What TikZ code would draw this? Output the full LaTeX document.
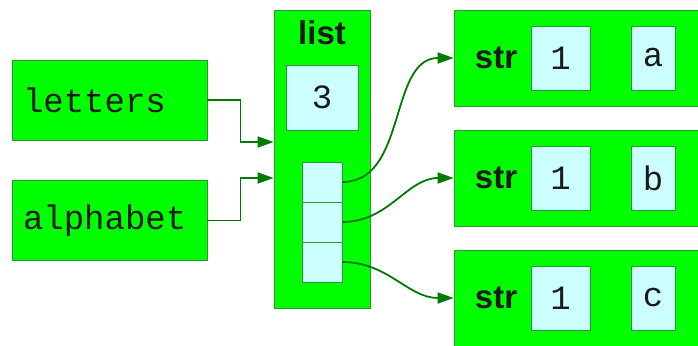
\documentclass[tikz,border=0pt]{standalone}
\usepackage{fontspec}
\setmainfont{Liberation Sans}
\setmonofont{Liberation Mono}
\usetikzlibrary{arrows.meta}
\definecolor{boxgreen}{HTML}{00FF00}
\definecolor{edgegreen}{HTML}{2A9A2A}
\definecolor{arrowgreen}{HTML}{007A00}
\definecolor{cellcyan}{HTML}{CCFFFF}
\definecolor{inkgray}{HTML}{1A1A1A}
\begin{document}
\begin{tikzpicture}[
            x=1pt, y=-1pt,
            objbox/.style={draw=edgegreen, fill=boxgreen, line width=0.8pt, inner sep=0pt},
            valbox/.style={draw=edgegreen, fill=cellcyan, line width=0.8pt, inner sep=0pt,
                           text=inkgray, font=\ttfamily\fontsize{34}{40}\selectfont},
            typename/.style={text=inkgray, font=\bfseries\fontsize{33}{40}\selectfont, inner sep=0pt},
            ref/.style={arrowgreen, line width=1.8pt, -{Triangle[length=16pt,width=11pt]}}
                           ]
            \useasboundingbox (0,0) rectangle (698,345);

            % 1. Draw the two variable names
            \node[objbox, minimum width=195pt, minimum height=80pt, text width=173pt,
                  inner xsep=11pt, align=left, text=inkgray,
                  font=\ttfamily\fontsize{34}{40}\selectfont] (letters_box) at (109.5,100) {letters};
            \node[objbox, minimum width=195pt, minimum height=80pt, text width=173pt,
                  inner xsep=11pt, align=left, text=inkgray,
                  font=\ttfamily\fontsize{34}{40}\selectfont] (alphabet_box) at (109.5,220.5) {alphabet};

            % 2. Draw the list object with its length and its three cells
            \node[objbox, minimum width=96pt, minimum height=298pt] (list_box) at (322,159) {};
            \node[typename] (list_name) at (322,33) {list};
            \node[valbox, minimum width=72pt, minimum height=65pt] (length_box) at (322,97.5) {3};
            \foreach \i/\y in {1/182, 2/222, 3/262} {
                \node[valbox, minimum width=40pt, minimum height=40pt] (cell_\i) at (322,\y) {};
            }

            % 3. Draw the three str objects
            \foreach \i/\y/\ch in {1/58/a, 2/178/b, 3/298/c} {
                \node[objbox, minimum width=250pt, minimum height=96pt] (str_\i) at (579,\y) {};
                \node[typename] (str_name_\i) at (496,\y) {str};
                \node[valbox, minimum width=59pt, minimum height=64pt] (str_len_\i) at (560.5,\y) {1};
                \node[valbox, minimum width=44pt, minimum height=64pt] (str_char_\i) at (653,\y) {\ch};
            }

            % 4. Connect the names to the list
            \draw[ref] (letters_box.east) -- ++(33,0) |- ([yshift=17pt]list_box.west);
            \draw[ref] (alphabet_box.east) -- ++(33,0) |- ([yshift=-19pt]list_box.west);

            % 5. Connect each cell to its str object
            \foreach \i in {1,2,3} {
                \draw[ref] (cell_\i.east) to[out=0, in=180] (str_\i.west);
            }

        \end{tikzpicture}
\end{document}
